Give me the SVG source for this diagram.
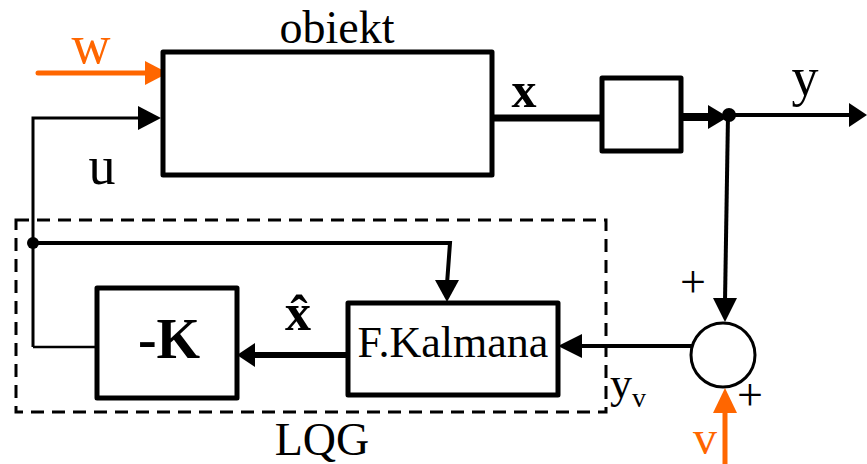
<svg xmlns="http://www.w3.org/2000/svg" width="867" height="464" viewBox="0 0 867 464">
<style>
text{font-family:"Liberation Serif","Times New Roman","DejaVu Serif",serif;fill:#000}
.b{font-weight:bold}
.org{fill:#FF6600}
.box{fill:#fff;stroke:#000;stroke-width:5;stroke-linejoin:round}
.ln{fill:none;stroke:#000}
.oln{fill:none;stroke:#FF6600}
.ah{fill:#000;stroke:none}
.oah{fill:#FF6600;stroke:none}
</style>
<rect width="867" height="464" fill="#fff"/>
<g id="lqg">
<rect x="16" y="220" width="590" height="192" fill="none" stroke="#000" stroke-width="3" stroke-dasharray="13 8"/>
<text x="322" y="455" font-size="46" text-anchor="middle">LQG</text>
</g>
<g id="connectors">
<path class="oln" d="M38,73 H150" stroke-width="5" stroke-linecap="round"/>
<polygon class="oah" points="145,61 168,73 145,85"/>
<path class="ln" d="M33,347 V118 H142" stroke-width="3"/>
<polygon class="ah" points="138,106 161,118 138,130"/>
<path class="ln" d="M33,347 H97" stroke-width="2.5"/>
<circle cx="33" cy="243" r="6"/>
<path class="ln" d="M33,243 H450 L447,284" stroke-width="4"/>
<polygon class="ah" points="435,280 447,302 459,280"/>
<path class="ln" d="M492,118 H602" stroke-width="7"/>
<path class="ln" d="M681,117 H712" stroke-width="8"/>
<polygon class="ah" points="708,105 728,117 708,129"/>
<circle cx="729" cy="115" r="7"/>
<path class="ln" d="M729,115 H852" stroke-width="4"/>
<polygon class="ah" points="849,103 867,115 849,127"/>
<path class="ln" d="M728,115 L725,302" stroke-width="4"/>
<polygon class="ah" points="713,298 725,322 737,298"/>
<path class="ln" d="M695,346 H578" stroke-width="4"/>
<polygon class="ah" points="582,334 558,346 582,358"/>
<path class="oln" d="M725,464 V408" stroke-width="5"/>
<polygon class="oah" points="713,413 725,388 737,413"/>
<path class="ln" d="M348,355 H252" stroke-width="6"/>
<polygon class="ah" points="255,343 237,355 255,367"/>
</g>
<g id="labels">
<text x="91" y="63" font-size="54" text-anchor="middle" class="org">w</text>
<text x="102" y="184" font-size="54" text-anchor="middle">u</text>
<text x="524" y="107" font-size="50" text-anchor="middle" class="b">x</text>
<text x="805" y="95" font-size="54" text-anchor="middle">y</text>
<text x="298" y="330" font-size="52" text-anchor="middle" class="b">x̂</text>
<text x="693" y="297" font-size="46" text-anchor="middle">+</text>
<text x="750" y="410" font-size="46" text-anchor="middle">+</text>
<text x="610" y="398" font-size="44">y<tspan font-size="28" dy="9">v</tspan></text>
<text x="705" y="454" font-size="48" text-anchor="middle" class="org">v</text>
</g>
<g id="obiekt">
<rect class="box" x="163" y="52" width="329" height="123"/>
<text x="337" y="43" font-size="46" text-anchor="middle">obiekt</text>
</g>
<g id="sensor">
<rect class="box" x="602" y="78" width="79" height="73" stroke-width="3"/>
</g>
<g id="gain">
<rect class="box" x="97" y="288" width="140" height="110"/>
<text x="169" y="358" font-size="56" text-anchor="middle" class="b">-K</text>
</g>
<g id="kalman">
<rect class="box" x="348" y="303" width="210" height="92"/>
<text x="453" y="357" font-size="44" text-anchor="middle">F.Kalmana</text>
</g>
<g id="sum">
<circle cx="723" cy="355" r="32" fill="#fff" stroke="#000" stroke-width="3"/>
</g>
</svg>
